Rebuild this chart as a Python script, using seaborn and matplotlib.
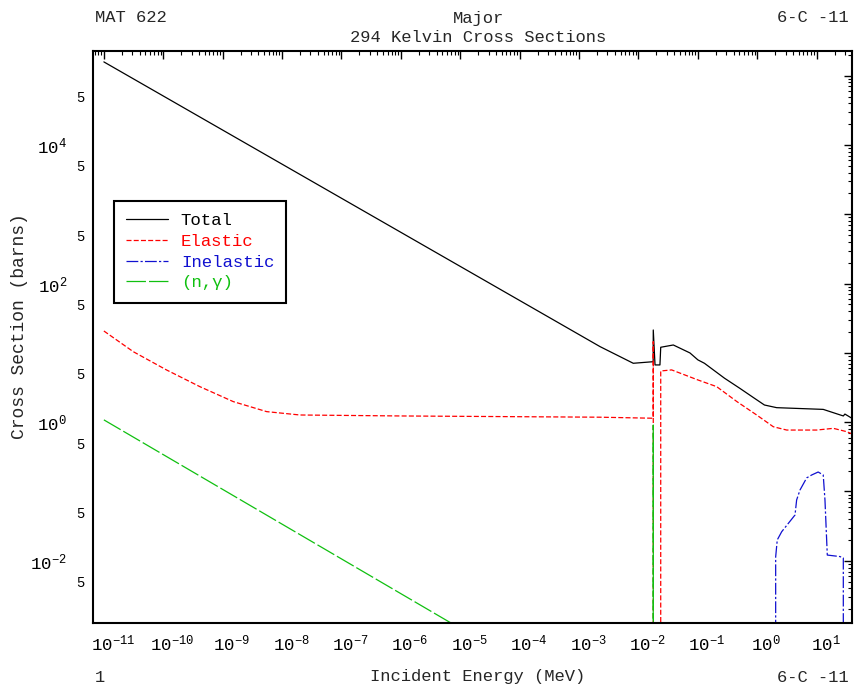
import numpy as np
import pandas as pd
import matplotlib
matplotlib.use("Agg")
import matplotlib.pyplot as plt
import seaborn as sns
from matplotlib.ticker import FixedLocator, LogLocator, FuncFormatter, NullFormatter
from matplotlib.transforms import ScaledTranslation
from matplotlib.lines import Line2D

# ---- cross-section data (energy in MeV, cross section in barns) ----
total_e = [1e-11, 2.26e-3, 8.17e-3, 1.77e-2, 1.775e-2, 1.9e-2, 2.3e-2, 2.37e-2,
           3.86e-2, 7.36e-2, 0.1, 0.129, 0.281, 0.509, 0.899, 1.32, 2.12,
           12.9, 28.1, 29.9, 44.2]
total_xs = [1.58e5, 12.3, 7.08, 7.46, 21.4, 6.7, 6.7, 12.05,
            13.0, 9.98, 7.93, 7.08, 4.31, 3.08, 2.21, 1.77, 1.62,
            1.53, 1.23, 1.31, 1.07]

elastic_e = [1e-11, 3.13e-11, 1.14e-10, 4.15e-10, 1.51e-9, 5.5e-9, 2.0e-8,
             9.64e-7, 2.25e-3, 1.77e-2, 1.775e-2, 1.78e-2, 2.365e-2, 2.37e-2,
             3.62e-2, 0.1, 0.207, 0.455, 0.977, 1.86, 3.13, 10.0, 19.1, 32.0, 44.2]
elastic_xs = [20.7, 10.4, 5.66, 3.25, 1.98, 1.42, 1.27,
              1.23, 1.18, 1.14, 14.5, 0.0, 0.0, 5.48,
              5.68, 4.07, 3.26, 1.98, 1.27, 0.86, 0.77, 0.77, 0.815, 0.73, 0.65]

inelastic_e = [2.04, 2.041, 2.17, 2.58, 4.32, 4.60, 5.24, 6.79, 8.24, 10.6,
               12.9, 13.8, 15.1, 24.7, 28.1, 28.11]
inelastic_xs = [0.0, 0.01135, 0.0200, 0.0263, 0.0458, 0.0754, 0.105, 0.157,
                0.173, 0.191, 0.173, 0.0754, 0.0121, 0.0115, 0.0110, 0.0]

capture_e = [1e-11, 7.16e-6, 1.77e-2, 1.775e-2, 1.78e-2]
capture_xs = [1.08, 1.25e-3, 2.4e-5, 0.91, 2.4e-5]

series_names = ["Total", "Elastic", "Inelastic", "(n,\u03b3)"]
series_colors = ["#000000", "#ff0000", "#1010d0", "#10c010"]
series_styles = ["-", (0, (3.6, 1.6)), (0, (8.5, 1.6, 1.6, 1.6)), (0, (14, 2.2))]

x_decades = list(range(-11, 2))
y_decades = list(range(-3, 6))

# ---- style ----
sns.set_style("white")
plt.rcParams["font.family"] = ["Liberation Mono", "DejaVu Sans"]
plt.rcParams["mathtext.default"] = "regular"
plt.rcParams["lines.scale_dashes"] = False

fig = plt.figure(figsize=(8.58, 6.86), dpi=100)
W, H = 858, 686
ax = fig.add_axes([93.3 / W, 1 - 623.3 / H, (852.3 - 93.3) / W, (623.3 - 51) / H])
ax.set_xscale("log")
ax.set_yscale("log")

frames = [
    pd.DataFrame({"energy": total_e, "xs": total_xs}),
    pd.DataFrame({"energy": elastic_e, "xs": elastic_xs}),
    pd.DataFrame({"energy": inelastic_e, "xs": inelastic_xs}),
    pd.DataFrame({"energy": capture_e, "xs": capture_xs}),
]
for df, name, col, ls in zip(frames, series_names, series_colors, series_styles):
    sns.lineplot(data=df, x="energy", y="xs", ax=ax, estimator=None, sort=False,
                 color=col, linestyle=ls, linewidth=0.9, legend=False)

ax.set_xlim(10 ** -11.178, 10 ** 1.6)
ax.set_ylim(10 ** -2.902, 10 ** 5.356)

# ---- axes, ticks, labels ----
for sp in ax.spines.values():
    sp.set_linewidth(1.5)
    sp.set_color("black")

ax.xaxis.set_major_locator(FixedLocator([10.0 ** k for k in x_decades]))
ax.xaxis.set_minor_locator(LogLocator(base=10, subs=np.arange(2, 10), numticks=100))
ax.yaxis.set_major_locator(FixedLocator([10.0 ** k for k in y_decades]))
ax.yaxis.set_minor_locator(LogLocator(base=10, subs=np.arange(2, 10), numticks=100))


def power_label(k):
    return "$10^{%d}$" % k


def xfmt(v, _):
    return power_label(int(round(np.log10(v))))


def yfmt(v, _):
    k = int(round(np.log10(v)))
    return power_label(k) if k % 2 == 0 else ""


def yminfmt(v, _):
    m = v / 10 ** np.floor(np.log10(v) + 1e-9)
    return "5" if abs(m - 5) < 1e-6 else ""


ax.xaxis.set_major_formatter(FuncFormatter(xfmt))
ax.xaxis.set_minor_formatter(NullFormatter())
ax.yaxis.set_major_formatter(FuncFormatter(yfmt))
ax.yaxis.set_minor_formatter(FuncFormatter(yminfmt))

ax.tick_params(which="major", direction="in", length=6, width=1, top=True, right=True, colors="black")
ax.tick_params(which="minor", direction="in", length=3, width=0.8, top=True, right=True, colors="black")
ax.tick_params(axis="x", which="major", pad=7, labelsize=12.5)
ax.tick_params(axis="y", which="major", pad=19, labelsize=12.5)
ax.tick_params(axis="y", which="minor", pad=6, labelsize=10)
ax.set_xlabel("")
ax.set_ylabel("")

shift = ScaledTranslation(6.5 / 72, 0, fig.dpi_scale_trans)
for lab in ax.xaxis.get_majorticklabels():
    lab.set_transform(lab.get_transform() + shift)

# ---- legend ----
handles = [Line2D([], [], color=c, linestyle=s, linewidth=0.9)
           for c, s in zip(series_colors, series_styles)]
leg = ax.legend(handles, series_names, loc="upper left",
                bbox_to_anchor=((114 - 93.3) / 759, (623.3 - 201) / 572.3),
                borderaxespad=0, fontsize=12.5, handlelength=2.4, handletextpad=0.75,
                labelspacing=0.32, borderpad=0.7, fancybox=False, framealpha=1,
                edgecolor="black")
leg.get_frame().set_linewidth(1.5)
for t, c in zip(leg.get_texts(), series_colors):
    t.set_color(c)

# ---- header / footer text ----
def fig_text(x, y, s, size=12.3, **kw):
    fig.text(x / W, 1 - y / H, s, fontsize=size, va="center", **kw)

fig_text(95, 18, "MAT 622", ha="left")
fig_text(478, 18, "Major", ha="center")
fig_text(478, 38, "294 Kelvin Cross Sections", ha="center")
fig_text(849, 18, "6-C -11", ha="right")
fig_text(95, 677, "1", ha="left")
fig_text(478, 677, "Incident Energy (MeV)", ha="center")
fig_text(849, 677, "6-C -11", ha="right")
fig_text(20, 326, "Cross Section (barns)", size=13, ha="center", rotation=90)

fig.savefig("out.png", dpi=100)
